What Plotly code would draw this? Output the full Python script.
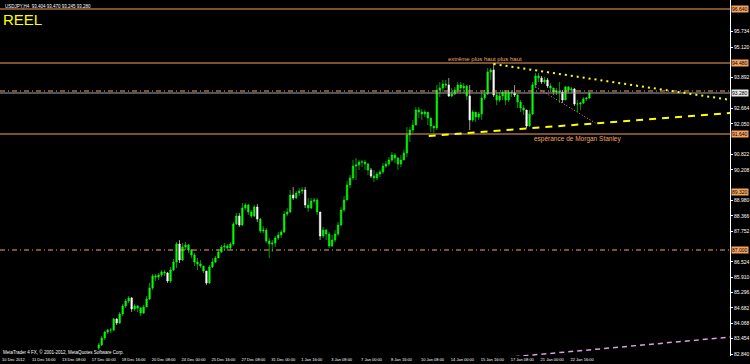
import plotly.graph_objects as go

# ---------------- data ----------------
first_open = 83.08
close = [83.20, 83.48, 83.72, 83.80, 83.80, 84.24, 84.08, 84.44, 84.76, 84.96,
         85.08, 84.64, 84.76, 84.68, 84.48, 84.72, 85.04, 85.48, 85.96, 85.92,
         86.00, 86.12, 86.08, 85.76, 86.20, 86.52, 87.24, 86.60, 87.12, 87.20,
         87.00, 86.80, 86.52, 86.44, 86.36, 86.16, 85.68, 86.32, 86.52, 86.68,
         86.92, 87.12, 87.16, 87.08, 87.24, 88.04, 88.36, 88.00, 88.68, 88.80,
         88.52, 88.36, 88.72, 88.24, 87.76, 87.80, 87.36, 87.24, 87.28, 87.48,
         87.60, 87.72, 88.44, 88.52, 89.20, 89.08, 89.28, 89.36, 89.40, 88.80,
         88.68, 88.96, 89.00, 88.52, 87.56, 87.80, 87.64, 87.16, 87.40, 87.64,
         88.00, 88.60, 89.00, 89.60, 89.88, 90.36, 90.40, 90.52, 90.52, 90.44,
         90.20, 89.96, 89.88, 90.04, 90.12, 90.36, 90.44, 90.60, 90.80, 90.68,
         90.44, 90.60, 90.88, 91.60, 91.80, 92.00, 92.60, 92.52, 92.44, 92.52,
         92.28, 91.96, 91.88, 93.40, 93.48, 93.64, 93.60, 93.16, 93.24, 93.40,
         93.60, 93.48, 93.56, 93.16, 92.20, 92.52, 92.32, 92.44, 93.08, 93.24,
         94.12, 94.20, 93.20, 93.00, 93.16, 93.32, 93.00, 93.32, 93.28, 93.20,
         92.92, 92.68, 92.60, 91.96, 92.44, 93.60, 93.96, 93.88, 93.72, 93.80,
         93.56, 93.48, 93.32, 93.36, 93.32, 93.00, 93.52, 93.40, 93.44, 92.84,
         92.84, 92.88, 93.04, 93.08, 93.28]
high = [83.28, 83.56, 83.76, 83.84, 83.88, 84.28, 84.28, 84.52, 84.84, 85.04,
        85.16, 85.12, 84.84, 84.80, 84.72, 84.80, 85.16, 85.68, 86.04, 86.04,
        86.08, 86.20, 86.20, 86.12, 86.32, 86.64, 87.32, 87.40, 87.28, 87.32,
        87.24, 87.04, 86.88, 86.68, 86.60, 86.36, 86.16, 86.40, 86.68, 86.76,
        87.04, 87.20, 87.28, 87.24, 87.32, 88.12, 88.48, 88.48, 88.88, 88.88,
        88.84, 88.60, 88.80, 88.84, 88.28, 87.96, 87.88, 87.48, 87.40, 87.56,
        87.72, 87.80, 88.56, 88.68, 89.40, 89.52, 89.36, 89.48, 89.52, 89.52,
        89.08, 89.08, 89.08, 89.08, 88.52, 87.92, 87.84, 87.72, 87.60, 87.80,
        88.12, 88.72, 89.16, 89.76, 90.00, 90.60, 90.68, 90.60, 90.60, 90.60,
        90.48, 90.28, 90.20, 90.12, 90.20, 90.48, 90.56, 90.72, 90.92, 90.88,
        90.72, 90.80, 91.00, 91.92, 91.92, 92.20, 92.72, 92.72, 92.64, 92.60,
        92.52, 92.28, 91.96, 93.60, 93.72, 93.80, 93.80, 93.88, 93.48, 93.52,
        93.72, 93.72, 93.68, 93.60, 93.60, 92.60, 92.52, 92.52, 93.32, 93.40,
        94.28, 94.28, 94.48, 93.32, 93.32, 93.40, 93.40, 93.40, 93.40, 93.60,
        93.24, 93.00, 92.80, 92.60, 92.60, 93.72, 94.08, 94.08, 93.96, 93.92,
        93.88, 93.68, 93.48, 93.48, 93.72, 93.40, 93.56, 93.56, 93.52, 93.48,
        93.00, 92.92, 93.12, 93.12, 93.32]
low = [83.00, 83.16, 83.40, 83.64, 83.68, 83.76, 84.00, 84.04, 84.36, 84.68,
       84.88, 84.52, 84.56, 84.52, 84.36, 84.44, 84.72, 85.00, 85.40, 85.76,
       85.80, 85.92, 85.96, 85.68, 85.68, 86.16, 86.28, 86.48, 86.56, 87.00,
       86.88, 86.68, 86.36, 86.20, 86.28, 86.08, 85.60, 85.64, 86.28, 86.48,
       86.68, 86.88, 87.00, 86.96, 87.00, 87.16, 88.00, 87.92, 87.96, 88.60,
       88.40, 88.28, 88.32, 88.12, 87.68, 87.68, 87.28, 86.68, 86.92, 87.12,
       87.40, 87.48, 87.68, 88.36, 88.48, 89.00, 89.04, 89.16, 89.24, 88.68,
       88.52, 88.64, 88.88, 88.40, 87.40, 87.48, 87.40, 87.08, 87.12, 87.32,
       87.56, 87.96, 88.52, 89.00, 89.48, 89.80, 89.80, 90.20, 90.32, 90.20,
       90.00, 89.88, 89.72, 89.80, 89.92, 90.04, 90.28, 90.36, 90.52, 90.48,
       90.20, 90.32, 90.60, 90.72, 91.32, 91.68, 92.00, 92.28, 92.20, 92.32,
       92.00, 91.72, 91.68, 91.80, 93.12, 93.32, 93.48, 93.12, 93.12, 93.20,
       93.28, 93.32, 93.28, 93.00, 91.80, 92.12, 92.12, 92.20, 92.20, 93.00,
       93.20, 93.80, 93.12, 92.80, 92.92, 93.00, 92.80, 92.92, 93.12, 93.12,
       92.68, 92.52, 92.40, 91.88, 91.92, 92.40, 93.48, 93.72, 93.64, 93.64,
       93.48, 93.32, 93.20, 93.20, 92.88, 92.88, 93.00, 93.28, 93.28, 92.76,
       92.52, 92.60, 92.84, 92.96, 93.04]
white_bars = [6, 11, 23, 27, 36, 47, 53, 65, 69, 74, 91, 117, 124, 132, 139,
              143, 148, 150, 155, 159]

date_labels = ["10 Dec 2012", "11 Dec 16:00", "13 Dec 08:00", "17 Dec 00:00",
               "18 Dec 16:00", "20 Dec 08:00", "24 Dec 00:00", "25 Dec 16:00",
               "27 Dec 08:00", "31 Dec 00:00", "1 Jan 16:00", "3 Jan 08:00",
               "7 Jan 00:00", "8 Jan 16:00", "10 Jan 08:00", "14 Jan 00:00",
               "15 Jan 16:00", "17 Jan 08:00", "21 Jan 00:00", "22 Jan 16:00"]

# horizontal levels
level_top = 96.64
level_high = 94.48
level_dd1 = 93.36
level_bid = 93.28
level_low = 91.64
level_mid = 89.32
level_dd2 = 87.00

header = "USDJPY,H4  93.404 93.470 93.245 93.280"
title_reel = "REEL"
txt_high = "extrême plus haut plus haut"
txt_ms = "espérance de Morgan Stanley"
footer = "MetaTrader 4 FX, © 2001-2012, MetaQuotes Software Corp."

# ---------------- build ----------------
opens = [first_open] + close[:-1]
bars = list(range(len(close)))
green_idx = [i for i in bars if i not in white_bars]

ORANGE = "#F4A460"
LIME = "#00FF00"

def sub(arr, idx):
    return [arr[i] for i in idx]

fig = go.Figure()
for idx, col in ((green_idx, LIME), (white_bars, "#FFFFFF")):
    fig.add_trace(go.Candlestick(
        x=idx, open=sub(opens, idx), high=sub(high, idx),
        low=sub(low, idx), close=sub(close, idx),
        increasing=dict(line=dict(color=col, width=0.6), fillcolor=col),
        decreasing=dict(line=dict(color=col, width=0.6), fillcolor=col),
        whiskerwidth=0, showlegend=False, hoverinfo="skip"))

shapes = []
def hline(y, color, dash="solid", width=1):
    shapes.append(dict(type="line", xref="paper", x0=0, x1=1, yref="y",
                       y0=y, y1=y, line=dict(color=color, width=width, dash=dash)))

hline(level_top, ORANGE)
hline(level_high, ORANGE)
hline(level_bid, "#A8A8A8")
hline(level_dd1, ORANGE, "5px,3px,1px,3px")
hline(level_low, ORANGE)
hline(level_dd2, ORANGE, "5px,3px,1px,3px")

# trend lines
shapes.append(dict(type="line", xref="x", yref="y", x0=132, y0=94.44, x1=211.3, y1=93.00,
                   line=dict(color="#FFFF00", width=2, dash="2px,4px")))
shapes.append(dict(type="line", xref="x", yref="y", x0=110.3, y0=91.56, x1=211.3, y1=92.48,
                   line=dict(color="#FFFF00", width=2, dash="7px,6px")))
shapes.append(dict(type="line", xref="x", yref="y", x0=146, y0=93.52, x1=166, y1=92.08,
                   line=dict(color="#F080C0", width=1, dash="1px,2px")))
shapes.append(dict(type="line", xref="x", yref="y", x0=112, y0=82.44, x1=211.3, y1=83.52,
                   line=dict(color="#DDA0DD", width=1.5, dash="5px,4px")))

annotations = []
FONT = "Liberation Sans"
annotations.append(dict(xref="paper", yref="paper", x=0.004, y=0.995, xanchor="left",
                        yanchor="top", text=header, showarrow=False,
                        font=dict(color="#FFFFFF", size=4.5, family=FONT)))
annotations.append(dict(xref="paper", yref="paper", x=0.002, y=0.975, xanchor="left",
                        yanchor="top", text=title_reel, showarrow=False,
                        font=dict(color="#FFFF00", size=15, family="Liberation Sans Narrow, Liberation Sans")))
annotations.append(dict(xref="x", yref="y", x=129, y=94.64, text=txt_high, showarrow=False,
                        font=dict(color=ORANGE, size=6, family=FONT)))
annotations.append(dict(xref="x", yref="y", x=160, y=91.46, text=txt_ms, showarrow=False,
                        font=dict(color=ORANGE, size=6.5, family=FONT)))
annotations.append(dict(xref="paper", yref="y", x=0.002, y=82.92, xanchor="left",
                        text=footer, showarrow=False,
                        font=dict(color="#FFFFFF", size=4.5, family=FONT)))

box_levels = [(level_top, ORANGE), (level_high, ORANGE), (level_bid, "#E8E8E8"),
              (level_low, ORANGE), (level_mid, ORANGE), (level_dd2, ORANGE)]
for lv, bg in box_levels:
    annotations.append(dict(xref="paper", yref="y", x=1, y=lv, xanchor="left",
                            xshift=1, text=f"{lv:.3f}", showarrow=False, bgcolor=bg,
                            borderpad=0, font=dict(color="#000000", size=5, family=FONT)))

# price ticks every 0.614, skipping those hidden under the level boxes
y_ticks = [82.84 + 0.614 * n for n in range(23)]
y_ticks = [v for v in y_ticks if min(abs(v - lv) for lv, _ in box_levels) > 0.3]

tick_pos = [-32.3 + 10 * j for j in range(len(date_labels))]

fig.update_layout(
    width=750, height=364,
    margin=dict(l=0, r=18, t=0, b=8),
    paper_bgcolor="#000000", plot_bgcolor="#000000",
    shapes=shapes, annotations=annotations,
    xaxis=dict(range=[-33, 211], rangeslider=dict(visible=False), showgrid=False,
               zeroline=False, showline=False, tickmode="array", tickvals=tick_pos,
               ticktext=date_labels, ticklabelposition="outside right", tickangle=0,
               tickfont=dict(color="#FFFFFF", size=4, family=FONT), ticks="",
               ticklabelstandoff=0),
    yaxis=dict(range=[82.76, 97.0], side="right", showgrid=False, zeroline=False,
               showline=True, linecolor="#FFFFFF", linewidth=1,
               tickmode="array", tickvals=y_ticks, tickformat=".3f", ticks="outside",
               ticklen=2, tickcolor="#FFFFFF",
               tickfont=dict(color="#FFFFFF", size=5, family=FONT)),
)

fig.write_html("out.html")
